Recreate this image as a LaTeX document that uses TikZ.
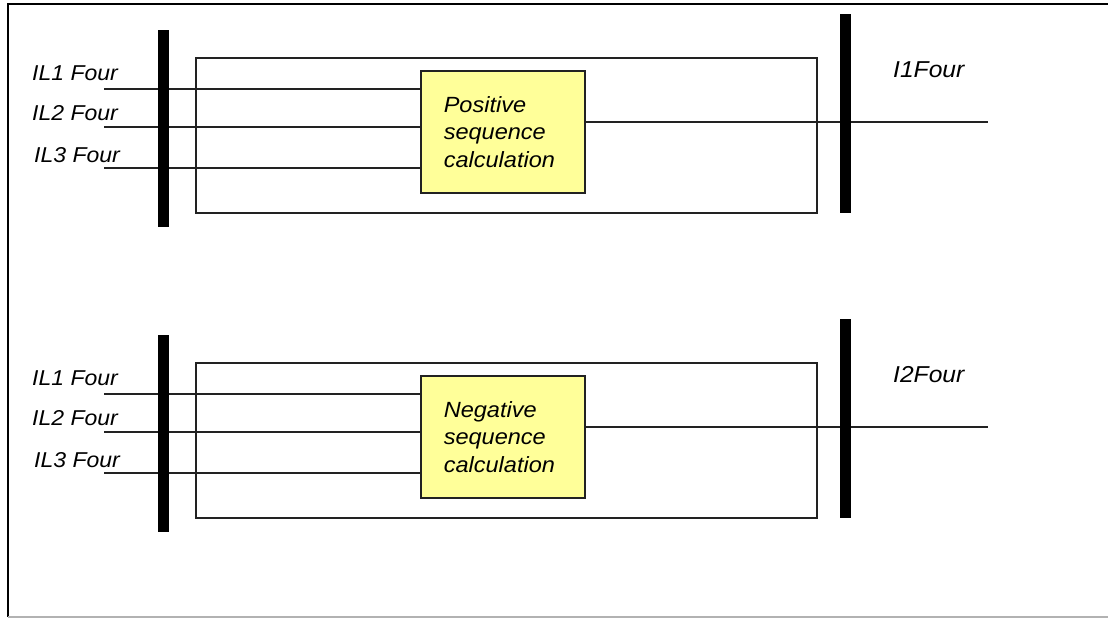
\documentclass[tikz,border=0pt]{standalone}
\usepackage{fontspec}
\setmainfont[FakeStretch=1.07]{Liberation Sans}
\definecolor{calcyellow}{HTML}{FFFF99}
\definecolor{linegray}{HTML}{222222}
\tikzset{
  wire/.style={draw=linegray, line width=1.5pt},
  outerbox/.style={draw=linegray, line width=1.5pt, inner sep=0pt, minimum width=621, minimum height=155},
  calcbox/.style={draw=linegray, line width=1.5pt, fill=calcyellow, inner sep=0pt, minimum width=164, minimum height=122, text width=118, align=left, font=\fontsize{22}{27.5}\selectfont\itshape},
  busbar/.style={fill=black, draw=none, inner sep=0pt, minimum width=11},
  lbl/.style={inner sep=0pt, anchor=base west, font=\fontsize{21.5}{26}\selectfont\itshape},
}
\newcommand\seqpanel[4]{%
\begin{scope}[shift={(0,#1)}]
  \node[outerbox, anchor=north west] (frame#2) at (195,57) {};
  \node[calcbox, anchor=north west] (calc#2) at (420,70) {#3\\sequence\\calculation};
  \coordinate (inA#2) at (104,89);
  \coordinate (inB#2) at (104,127);
  \coordinate (inC#2) at (104,168);
  \coordinate (out#2) at (988,122);
  \draw[wire] (inA#2) -- (inA#2 -| calc#2.west);
  \draw[wire] (inB#2) -- (inB#2 -| calc#2.west);
  \draw[wire] (inC#2) -- (inC#2 -| calc#2.west);
  \draw[wire] (calc#2.east |- out#2) -- (out#2);
  \node[busbar, minimum height=197] (lbar#2) at (163.5,128.5) {};
  \node[busbar, minimum height=199] (rbar#2) at (845.5,113.5) {};
  \node[lbl] (lA#2) at (32,80) {IL1 Four};
  \node[lbl] (lB#2) at (32,120) {IL2 Four};
  \node[lbl] (lC#2) at (34,162) {IL3 Four};
  \node[lbl, font=\fontsize{23}{27}\selectfont\itshape] (lO#2) at (893,77) {#4};
\end{scope}}
\begin{document}
\begin{tikzpicture}[x=1pt,y=-1pt]
\useasboundingbox (0,0) rectangle (1108,619);
\fill[white] (0,0) rectangle (1108,619);
\draw[black, line width=2.5pt] (1108,4) -- (8,4) -- (8,617);
\draw[gray!60, line width=1.5pt] (8,617) -- (1108,617);
\seqpanel{0}{p}{Positive}{I1Four}
\seqpanel{305}{n}{Negative}{I2Four}
\end{tikzpicture}
\end{document}
